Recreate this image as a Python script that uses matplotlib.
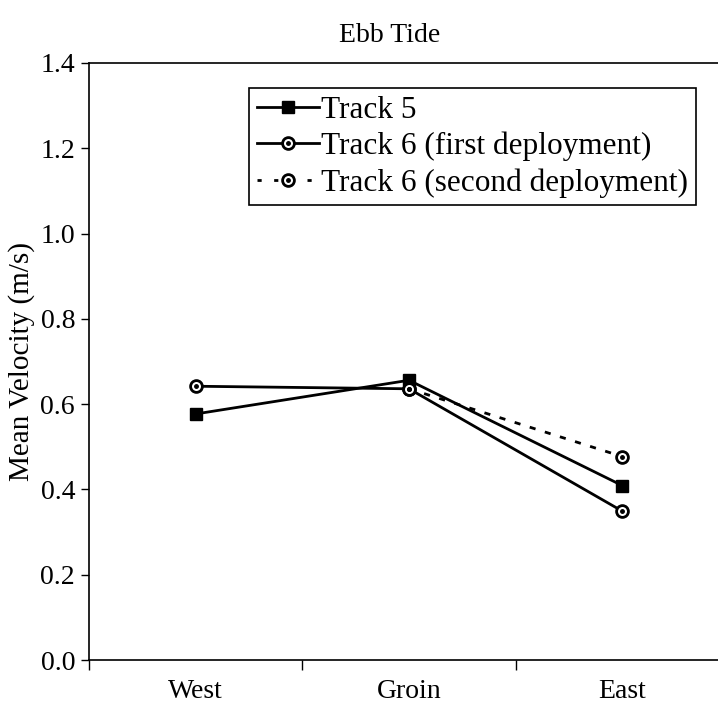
import matplotlib.pyplot as plt
from matplotlib.legend_handler import HandlerTuple
from matplotlib.lines import Line2D
import numpy as np

plt.rcParams.update({
    "font.family": "Liberation Serif",
    "font.size": 20,
})

# Data
sites = ["West", "Groin", "East"]
track5 = [0.577, 0.656, 0.409]
track6_first = [0.642, 0.636, 0.349]
track6_second = [np.nan, 0.636, 0.477]

x = np.arange(len(sites))

fig = plt.figure(figsize=(7.18, 7.07), dpi=100)
ax = fig.add_axes([89 / 718, 1 - 660 / 707, 640 / 718, 597 / 707])

LW = 2.0
DASH = (0, (2.2, 3.5))

# Track 5: solid with filled squares
ax.plot(x, track5, color="black", lw=LW, marker="s", ms=9,
        mfc="black", mec="black", zorder=3)

# Track 6 first: solid with bullseye circles
ax.plot(x, track6_first, color="black", lw=LW, marker="o", ms=8.5,
        mfc="white", mec="black", mew=2.0, zorder=3)
ax.plot(x, track6_first, ls="none", marker="o", ms=2.5, color="black", zorder=4)

# Track 6 second: dashed with bullseye circles
ax.plot(x, track6_second, color="black", lw=LW, ls=DASH,
        marker="o", ms=8.5, mfc="white", mec="black", mew=2.0, zorder=3)
ax.plot(x, track6_second, ls="none", marker="o", ms=2.5, color="black", zorder=4)

# Axes
ax.set_xlim(-0.5, 2.5)
ax.set_ylim(0.0, 1.4)
yt = np.arange(0, 1.41, 0.2)
ax.set_yticks(yt)
ax.set_yticklabels([f"{v:.1f}" for v in yt])
ax.set_xticks([-0.5, 0.5, 1.5])
ax.set_xticklabels([])
ax.set_xticks(x, minor=True)
ax.set_xticklabels(sites, minor=True)
ax.tick_params(axis="x", which="major", direction="out", length=7, width=1)
ax.tick_params(axis="x", which="minor", length=0, pad=14)
ax.tick_params(axis="y", direction="out", length=6, width=1, pad=4)
ax.spines["right"].set_visible(False)
for s in ["top", "left", "bottom"]:
    ax.spines[s].set_linewidth(1.2)

ax.set_ylabel("Mean Velocity (m/s)", labelpad=4, fontsize=21)
fig.text(390 / 718, 1 - 36 / 707, "Ebb Tide", ha="center", va="center",
         fontsize=20)

# Legend
h5 = Line2D([], [], color="black", lw=LW, marker="s", ms=9, mfc="black")
h6a = (Line2D([], [], color="black", lw=LW, marker="o", ms=8.5, mfc="white",
              mec="black", mew=2.0),
       Line2D([], [], ls="none", marker="o", ms=2.5, color="black"))
h6b = (Line2D([], [], color="black", lw=LW, ls=(0, (1.5, 4.5)), marker="o",
              ms=8.5, mfc="white", mec="black", mew=2.0),
       Line2D([], [], ls="none", marker="o", ms=2.5, color="black"))
leg = ax.legend([h5, h6a, h6b],
                ["Track 5", "Track 6 (first deployment)",
                 "Track 6 (second deployment)"],
                handler_map={tuple: HandlerTuple(ndivide=1, pad=0)},
                loc="upper left", bbox_to_anchor=(249 / 718, 1 - 88 / 707),
                bbox_transform=fig.transFigure, fontsize=22.5,
                frameon=True, fancybox=False, edgecolor="black",
                framealpha=1, handlelength=2.0, handletextpad=0.05,
                labelspacing=0.22, borderpad=0.25, borderaxespad=0)
leg.get_frame().set_linewidth(1.2)

plt.savefig("out.png", dpi=100)
